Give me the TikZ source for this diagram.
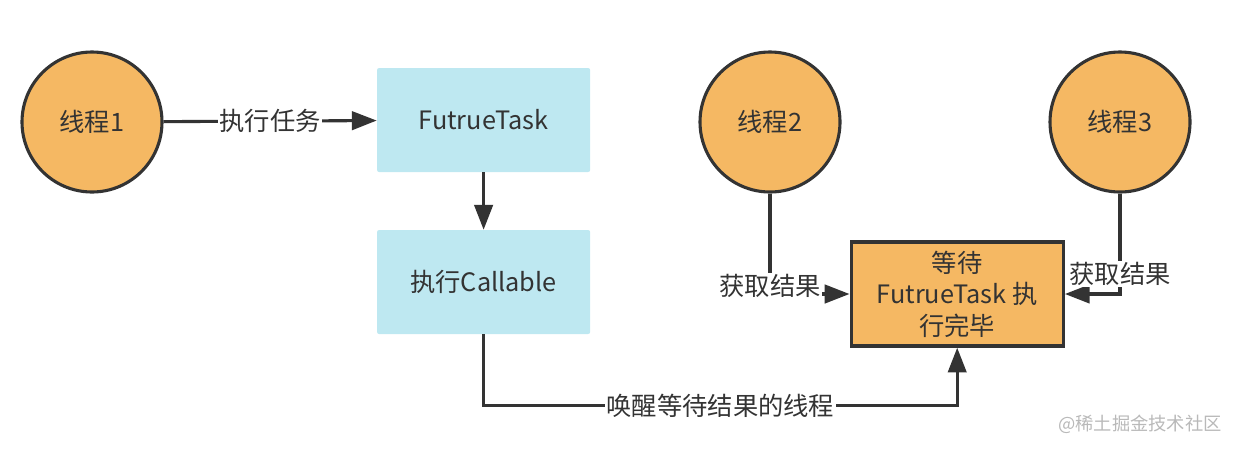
\documentclass[tikz,border=0pt]{standalone}
\usepackage{fontspec}
\setmainfont{Noto Sans CJK SC}
\usetikzlibrary{arrows.meta}
\definecolor{threadorange}{HTML}{F5B863}
\definecolor{taskblue}{HTML}{BEE8F1}
\definecolor{inkgray}{HTML}{333333}

\begin{document}
\begin{tikzpicture}[
  thread/.style={circle, draw=inkgray, line width=2.2pt, fill=threadorange, minimum size=3.5cm, text=inkgray},
  taskbox/.style={rectangle, rounded corners=1.5pt, fill=taskblue, minimum width=5.33cm, minimum height=2.6cm, text=inkgray},
  waitbox/.style={rectangle, draw=inkgray, line width=2.4pt, fill=threadorange, minimum width=5.3cm, minimum height=2.6cm, align=center, text=inkgray},
  conn/.style={draw=inkgray, line width=2.2pt, -{Triangle[length=0.62cm,width=0.46cm]}},
  lbl/.style={fill=white, text=inkgray, inner sep=1pt},
  font=\fontsize{18}{22.5}\selectfont
]
  \useasboundingbox (0,0) rectangle (30.9,-11.25);
  % threads and tasks
  \node[thread] (t1) at (2.3,-3.05) {线程1};
  \node[taskbox] (task) at (12.09,-3.0) {FutrueTask};
  \node[taskbox] (call) at (12.09,-7.05) {执行Callable};
  \node[thread] (t2) at (19.25,-3.05) {线程2};
  \node[thread] (t3) at (28.0,-3.05) {线程3};
  \node[waitbox] (wait) at (23.93,-7.35) {等待\\FutrueTask 执\\行完毕};
  % watermark
  \node[text=gray!55, font=\fontsize{13}{15}\selectfont] (mark) at (28.5,-10.6) {@稀土掘金技术社区};
  % connectors
  \draw[conn] (t1) -- node[lbl] {执行任务} (task);
  \draw[conn] (task) -- (call);
  \draw[conn] (call.south) -- ++(0,-1.78) -| node[lbl, pos=0.25] {唤醒等待结果的线程} (wait.south);
  \draw[conn] (t2.south) |- node[lbl, pos=0.5, yshift=0.2cm] {获取结果} (wait.west);
  \draw[conn] (t3.south) |- node[lbl, pos=0.4] {获取结果} (wait.east);
\end{tikzpicture}
\end{document}
